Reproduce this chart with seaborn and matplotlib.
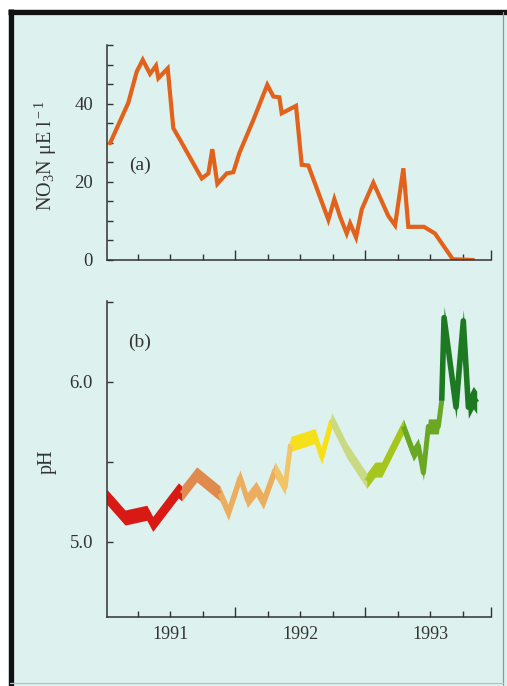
import numpy as np
import pandas as pd
import seaborn as sns
import matplotlib.pyplot as plt
from matplotlib.lines import Line2D
from matplotlib.patches import Rectangle

# ---------------- data ----------------
no3_year = [1990.538, 1990.679, 1990.744, 1990.790, 1990.846, 1990.892, 1990.910,
            1990.982, 1991.025, 1991.077, 1991.244, 1991.295, 1991.325, 1991.364,
            1991.436, 1991.487, 1991.533, 1991.641, 1991.748, 1991.795, 1991.841,
            1991.859, 1991.969, 1992.013, 1992.064, 1992.218, 1992.264, 1992.308,
            1992.359, 1992.385, 1992.431, 1992.475, 1992.564, 1992.679, 1992.731,
            1992.795, 1992.833, 1992.954, 1993.038, 1993.175, 1993.333]
no3_value = [29.9, 40.3, 48.3, 51.3, 47.7, 49.8, 46.6,
             49.1, 33.8, 30.8, 20.9, 22.2, 28.4, 19.5,
             22.2, 22.5, 27.4, 35.9, 44.9, 41.9, 41.7,
             37.6, 39.5, 24.4, 24.2, 10.3, 15.6, 11.1,
             6.8, 9.4, 5.8, 13.0, 19.8, 11.3, 8.9,
             23.5, 8.5, 8.5, 6.8, 0.2, 0.0]

ph_year = [1990.513, 1990.654, 1990.821, 1990.867, 1991.064,
           1991.090, 1991.205,
           1991.385, 1991.449, 1991.538, 1991.595, 1991.662, 1991.718,
           1991.808, 1991.885,
           1991.928, 1992.115, 1992.167,
           1992.244, 1992.359,
           1992.513, 1992.577, 1992.628,
           1992.795, 1992.872, 1992.910, 1992.949, 1992.987, 1993.064,
           1993.090, 1993.108, 1993.200, 1993.256, 1993.295, 1993.333, 1993.359]
ph_value = [5.28, 5.15, 5.18, 5.11, 5.32,
            5.30, 5.42,
            5.30, 5.18, 5.40, 5.26, 5.33, 5.25,
            5.45, 5.34,
            5.61, 5.66, 5.53,
            5.76, 5.57,
            5.38, 5.45, 5.45,
            5.72, 5.55, 5.60, 5.43, 5.72, 5.72,
            5.88, 6.40, 5.84, 6.38, 5.84, 5.90, 5.87]
ph_group = [0, 0, 0, 0, 0,
            1, 1,
            2, 2, 2, 2, 2, 2,
            3, 3,
            4, 4, 4,
            5, 5,
            6, 6, 6,
            7, 7, 7, 7, 7, 7,
            8, 8, 8, 8, 8, 8, 8]
ph_colors = ["#D91A14", "#E08A4E", "#ECAE5E", "#F2C468", "#F6E01C",
             "#C9DA82", "#A6C61E", "#6AA824", "#1D7A22"]

year_ticks = [1991, 1992, 1993]
year_labels = ["1991", "1992", "1993"]
no3_ticks = [0, 5, 10, 15, 20, 25, 30, 35, 40, 45, 50, 55]
no3_ticklabels = ["0", "", "", "", "20", "", "", "", "40", "", "", ""]
ph_ticks = [5.0, 5.5, 6.0, 6.5]
ph_ticklabels = ["5.0", "", "6.0", ""]

# ---------------- style ----------------
BG = "#DDF1EF"
INK = "#333333"
sns.set_theme(style="ticks")
plt.rcParams['font.family'] = ['Liberation Serif', 'DejaVu Serif']
plt.rcParams['mathtext.fontset'] = 'custom'
plt.rcParams['mathtext.rm'] = 'Liberation Serif'
plt.rcParams['mathtext.it'] = 'Liberation Serif:italic'
plt.rcParams['text.color'] = INK

W, H = 507, 686
fig = plt.figure(figsize=(W / 100, H / 100), dpi=100)
fig.patch.set_facecolor('white')
fig.add_artist(Rectangle((8 / W, 0), 1 - 8 / W, 1 - 9 / H, transform=fig.transFigure,
                         facecolor=BG, edgecolor='none', zorder=-10))
fig.add_artist(Line2D([8 / W, 1], [1 - 11.5 / H] * 2, transform=fig.transFigure,
                      color='#111111', lw=3.8, solid_capstyle='butt'))
fig.add_artist(Line2D([10.5 / W] * 2, [0, 1 - 9 / H], transform=fig.transFigure,
                      color='#111111', lw=3.8, solid_capstyle='butt'))
fig.add_artist(Line2D([502.5 / W] * 2, [1 / H, 1 - 12 / H], transform=fig.transFigure,
                      color='#8a9a9a', lw=0.9))
fig.add_artist(Line2D([10 / W, 502.5 / W], [1 - 683 / H] * 2, transform=fig.transFigure,
                      color='#b0c4c4', lw=0.9))

XLIM = (1990.515, 1993.469)
quarters = [1990.75, 1991.0, 1991.25, 1991.5, 1991.75, 1992.0, 1992.25,
            1992.5, 1992.75, 1993.0, 1993.25, XLIM[1]]
long_ticks = {1991.5, 1992.5, XLIM[1]}

ax1 = fig.add_axes([107 / W, 1 - 260 / H, 384 / W, 215 / H])
ax2 = fig.add_axes([107 / W, 1 - 616.7 / H, 384 / W, 316 / H])

for ax in (ax1, ax2):
    ax.set_facecolor('none')
    for s in ('top', 'right'):
        ax.spines[s].set_visible(False)
    for s in ('left', 'bottom'):
        ax.spines[s].set_color(INK)
        ax.spines[s].set_linewidth(1.1)
    ax.set_xlim(*XLIM)
    ax.set_xticks(quarters)
    ax.tick_params(axis='both', direction='in', length=4, width=1.0, color=INK,
                   labelcolor=INK)
    ax.tick_params(axis='y', pad=10, labelsize=13.5)
    ax.tick_params(axis='x', pad=7, labelsize=13)
    for pos, tk in zip(quarters, ax.xaxis.get_major_ticks()):
        if pos in long_ticks:
            tk.tick1line.set_markersize(7)

# (a) nitrate
df_no3 = pd.DataFrame({"year": no3_year, "no3": no3_value})
sns.lineplot(data=df_no3, x="year", y="no3", ax=ax1, color="#E2621B", lw=3.0,
             sort=False, solid_joinstyle='miter')
ax1.set_ylim(0, 55.1)
ax1.set_yticks(no3_ticks)
ax1.set_yticklabels(no3_ticklabels)
ax1.set_xticklabels([""] * len(quarters))
ax1.set_xlabel("")
ax1.set_ylabel(r"NO$_{\rm 3}$N μE l$^{\rm -1}$", fontsize=14.5, color=INK)
ax1.yaxis.set_label_coords(-0.125, 0.484)
ax1.text(0.086, 0.442, "(a)", transform=ax1.transAxes, ha='center', va='center',
         fontsize=14, color=INK)

# (b) pH ribbon
df_ph = pd.DataFrame({"year": ph_year, "ph": ph_value, "grp": ph_group})
ngrp = max(ph_group) + 1
for g in range(ngrp):
    idx = [i for i, v in enumerate(ph_group) if v == g]
    if g < ngrp - 1:
        idx = idx + [idx[-1] + 1]
    seg = df_ph.iloc[idx]
    last = (g == ngrp - 1)
    hw = 0.07 if last else 0.047
    lw = 4.0 if last else 3.6
    ax2.fill_between(seg["year"], seg["ph"] - hw, seg["ph"] + hw,
                     color=ph_colors[g], lw=0)
    sns.lineplot(x=seg["year"].values, y=seg["ph"].values, ax=ax2,
                 color=ph_colors[g], lw=lw, sort=False,
                 solid_joinstyle='round', solid_capstyle='butt')
ax2.set_ylim(4.53, 6.506)
ax2.set_yticks(ph_ticks)
ax2.set_yticklabels(ph_ticklabels)
labels = [year_labels[year_ticks.index(q)] if q in year_ticks else "" for q in quarters]
ax2.set_xticklabels(labels)
ax2.set_xlabel("")
ax2.set_ylabel("pH", fontsize=14.5, color=INK)
ax2.yaxis.set_label_coords(-0.13, 0.49)
ax2.text(0.086, 0.869, "(b)", transform=ax2.transAxes, ha='center', va='center',
         fontsize=14, color=INK)

fig.savefig("out.png", dpi=100, facecolor=fig.get_facecolor())
